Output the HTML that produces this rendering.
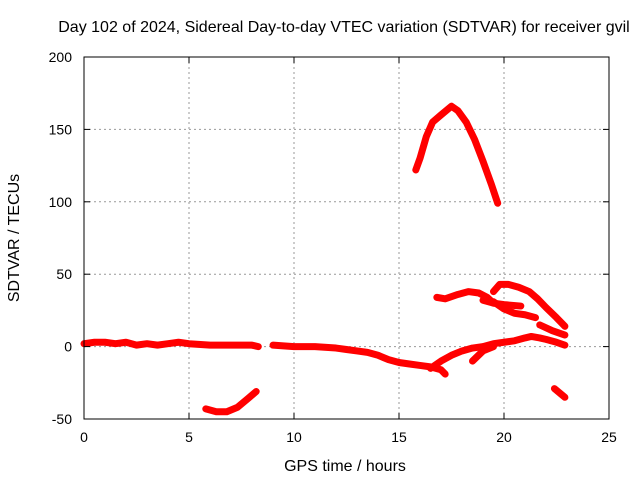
<!DOCTYPE html>
<html><head><meta charset="utf-8"><style>
body{margin:0;background:#fff;}
svg text{font-family:"Liberation Sans",sans-serif;font-size:14px;fill:#000;}
svg text.big{font-size:16px;}
</style></head><body>
<svg id="chart" width="640" height="480">
<text class="big" x="344" y="32" text-anchor="middle">Day 102 of 2024, Sidereal Day-to-day VTEC variation (SDTVAR) for receiver gvil</text>
<text class="big" x="345" y="471" text-anchor="middle">GPS time / hours</text>
<text class="big" transform="translate(19,238) rotate(-90)" text-anchor="middle">SDTVAR / TECUs</text>
<g id="grid"></g><g id="series"></g><g id="ticks"></g>
<rect x="84" y="57" width="525" height="362" fill="none" stroke="#000"/>
</svg>
<script>
const xTicks=[0,5,10,15,20,25];
const yTicks=[-50,0,50,100,150,200];
const seg1=[[0,2],[0.5,3],[1,3],[1.5,2],[2,3],[2.5,1],[3,2],[3.5,1],[4,2],[4.5,3],[5,2],[6,1],[7,1],[8,1],[8.3,0]];
const seg2=[[9,1],[10,0],[11,0],[12,-1],[12.5,-2],[13,-3],[13.5,-4],[14,-6],[14.5,-9],[15,-11],[15.5,-12],[16,-13],[16.5,-14],[17,-16],[17.2,-19]];
const seg3=[[5.8,-43],[6.3,-45],[6.8,-45],[7.3,-42],[7.8,-36],[8.2,-31]];
const seg4=[[15.8,122],[16,130],[16.3,145],[16.6,155],[17,160],[17.5,166],[17.8,163],[18.2,155],[18.6,143],[19,128],[19.4,112],[19.7,99]];
const seg5=[[16.8,34],[17.2,33],[17.8,36],[18.3,38],[18.8,37],[19.2,34],[19.5,30]];
const seg6=[[19.5,38],[19.8,43],[20.2,43],[20.7,41],[21.2,38],[21.6,33],[22,27],[22.5,20],[22.9,14]];
const seg7=[[19,32],[19.5,30],[20,29],[20.8,28]];
const seg8=[[19.5,31],[20,26],[20.5,23],[21,22],[21.5,20]];
const seg9=[[16.5,-15],[17,-10],[17.5,-6],[18,-3],[18.5,-1],[19,0],[19.5,2],[20,3],[20.5,4],[21,6],[21.3,7],[21.7,6],[22,5],[22.5,3],[22.9,1]];
const seg10=[[18.5,-10],[19,-3],[19.5,0]];
const seg11=[[21.7,15],[22.3,11],[22.9,8]];
const seg12=[[22.4,-29],[22.9,-35]];
const segments=[seg1,seg2,seg3,seg4,seg5,seg6,seg7,seg8,seg9,seg10,seg11,seg12];
const X=v=>84+v*21, Y=v=>346.6-v*1.448;
const NS="http://www.w3.org/2000/svg";
const grid=document.getElementById('grid'),ticks=document.getElementById('ticks'),ser=document.getElementById('series');
function mk(tag,attrs,parent){const e=document.createElementNS(NS,tag);for(const k in attrs)e.setAttribute(k,attrs[k]);parent.appendChild(e);return e;}
xTicks.forEach(t=>{
 if(t>0&&t<25){const g=mk('line',{x1:X(t),x2:X(t),y1:57,y2:419,stroke:'#999','stroke-dasharray':'2,3'},grid);
 
 }
 const l=mk('text',{x:X(t),y:442,'text-anchor':'middle'},ticks);l.textContent=t;
 
 
 mk('line',{x1:X(t),x2:X(t),y1:419,y2:413,stroke:'#000'},ticks);
 mk('line',{x1:X(t),x2:X(t),y1:57,y2:63,stroke:'#000'},ticks);
});
yTicks.forEach(t=>{
 if(t>-50&&t<200){const g=mk('line',{x1:84,x2:609,y1:Y(t),y2:Y(t),stroke:'#999','stroke-dasharray':'2,3'},grid);
 
 }
 const l=mk('text',{x:72,y:Y(t)+5,'text-anchor':'end'},ticks);l.textContent=t;
 
 
 mk('line',{x1:84,x2:90,y1:Y(t),y2:Y(t),stroke:'#000'},ticks);
 mk('line',{x1:603,x2:609,y1:Y(t),y2:Y(t),stroke:'#000'},ticks);
});
segments.forEach(s=>{
 const p=mk('polyline',{points:s.map(d=>X(d[0])+','+Y(d[1])).join(' '),fill:'none',stroke:'#f00','stroke-width':7,'stroke-linejoin':'round','stroke-linecap':'round'},ser);
 
 
});
</script>
</body></html>
